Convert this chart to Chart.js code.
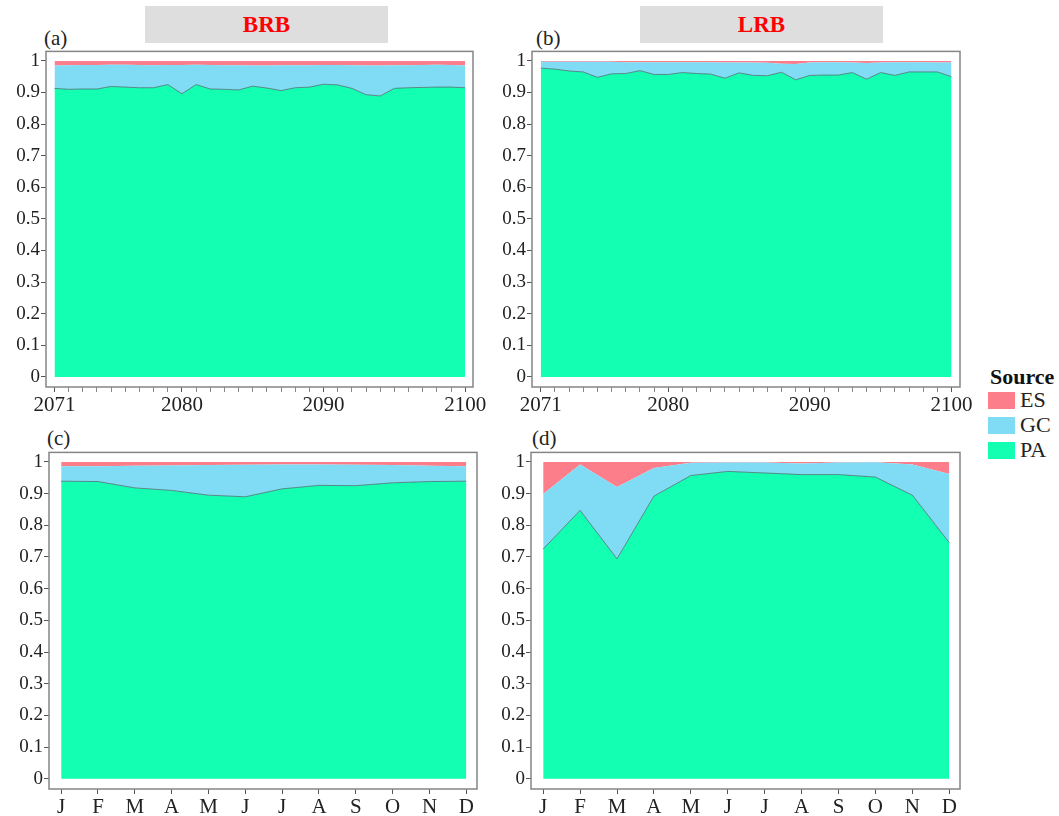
<!DOCTYPE html>
<html>
<head>
<meta charset="utf-8">
<script src="https://cdn.jsdelivr.net/npm/chart.js@4.4.1/dist/chart.umd.min.js"></script>
<style>
  body { margin: 0; background: #fff; width: 1059px; height: 816px; position: relative; overflow: hidden;
         font-family: 'Liberation Serif', 'Times New Roman', serif; }
  .box { position: absolute; }
  .strip { position: absolute; top: 6px; width: 243px; height: 37px; background: #dedede;
           color: #ff0000; font-weight: bold; font-size: 23px; line-height: 37px; text-align: center; }
  .tag { position: absolute; font-size: 21px; color: #222; line-height: 22px; }
  .legend-title { position: absolute; left: 990px; top: 365px; font-size: 22px; font-weight: bold; color: #111; line-height: 24px; }
  .key { position: absolute; left: 988px; width: 27px; height: 17px; }
  .key-label { position: absolute; left: 1020px; font-size: 22px; color: #222; line-height: 22px; }
</style>
</head>
<body>
<div class="strip" style="left:145px">BRB</div>
<div class="strip" style="left:640px">LRB</div>
<div class="tag" style="left:44px;top:27px">(a)</div>
<div class="tag" style="left:536px;top:27px">(b)</div>
<div class="tag" style="left:47px;top:427px">(c)</div>
<div class="tag" style="left:532px;top:427px">(d)</div>

<div class="legend-title">Source</div>
<div class="key" style="top:392px;background:#fd7e8b"></div>
<div class="key-label" style="top:389px">ES</div>
<div class="key" style="top:417px;background:#80dbf5"></div>
<div class="key-label" style="top:414px">GC</div>
<div class="key" style="top:442px;background:#13ffb2"></div>
<div class="key-label" style="top:439px">PA</div>

<div class="box" id="boxA"><canvas id="chartA"></canvas></div>
<div class="box" id="boxB"><canvas id="chartB"></canvas></div>
<div class="box" id="boxC"><canvas id="chartC"></canvas></div>
<div class="box" id="boxD"><canvas id="chartD"></canvas></div>

<script>
// categories and tick labels
const years = [2071, 2072, 2073, 2074, 2075, 2076, 2077, 2078, 2079, 2080,
               2081, 2082, 2083, 2084, 2085, 2086, 2087, 2088, 2089, 2090,
               2091, 2092, 2093, 2094, 2095, 2096, 2097, 2098, 2099, 2100];
const yearLabels = [2071, 2080, 2090, 2100];
const months = [0, 1, 2, 3, 4, 5, 6, 7, 8, 9, 10, 11];
const monthLabels = ['J', 'F', 'M', 'A', 'M', 'J', 'J', 'A', 'S', 'O', 'N', 'D'];
const yTicks = [0, 0.1, 0.2, 0.3, 0.4, 0.5, 0.6, 0.7, 0.8, 0.9, 1];
const yTickLabels = ['0', '0.1', '0.2', '0.3', '0.4', '0.5', '0.6', '0.7', '0.8', '0.9', '1'];

// (a) BRB annual shares
const brbYearPA = [0.913, 0.910, 0.911, 0.911, 0.919, 0.917, 0.915, 0.915, 0.925, 0.896,
                   0.925, 0.911, 0.910, 0.908, 0.920, 0.914, 0.906, 0.915, 0.917, 0.926,
                   0.924, 0.913, 0.893, 0.889, 0.913, 0.915, 0.916, 0.917, 0.917, 0.915];
const brbYearGC = [0.072, 0.076, 0.076, 0.076, 0.069, 0.071, 0.072, 0.071, 0.062, 0.091,
                   0.063, 0.076, 0.076, 0.078, 0.065, 0.071, 0.080, 0.071, 0.069, 0.061,
                   0.063, 0.073, 0.092, 0.096, 0.073, 0.071, 0.071, 0.071, 0.070, 0.070];
const brbYearES = [0.015, 0.014, 0.013, 0.013, 0.012, 0.012, 0.013, 0.014, 0.013, 0.013,
                   0.012, 0.013, 0.014, 0.014, 0.015, 0.015, 0.014, 0.014, 0.014, 0.013,
                   0.013, 0.014, 0.015, 0.015, 0.014, 0.014, 0.013, 0.012, 0.013, 0.015];

// (b) LRB annual shares
const lrbYearPA = [0.977, 0.974, 0.968, 0.965, 0.948, 0.959, 0.960, 0.969, 0.957, 0.957,
                   0.963, 0.960, 0.958, 0.945, 0.962, 0.954, 0.953, 0.964, 0.940, 0.954,
                   0.955, 0.955, 0.963, 0.942, 0.963, 0.954, 0.965, 0.965, 0.965, 0.950];
const lrbYearGC = [0.020, 0.023, 0.029, 0.032, 0.049, 0.038, 0.036, 0.027, 0.039, 0.039,
                   0.033, 0.036, 0.038, 0.050, 0.033, 0.041, 0.041, 0.027, 0.050, 0.041,
                   0.041, 0.041, 0.032, 0.051, 0.032, 0.042, 0.031, 0.031, 0.030, 0.045];
const lrbYearES = [0.003, 0.003, 0.003, 0.003, 0.003, 0.003, 0.004, 0.004, 0.004, 0.004,
                   0.004, 0.004, 0.004, 0.005, 0.005, 0.005, 0.006, 0.009, 0.010, 0.005,
                   0.004, 0.004, 0.005, 0.007, 0.005, 0.004, 0.004, 0.004, 0.005, 0.005];

// (c) BRB monthly shares
const brbMonthPA = [0.939, 0.938, 0.918, 0.910, 0.895, 0.890, 0.915, 0.926, 0.925, 0.934, 0.938, 0.939];
const brbMonthGC = [0.047, 0.048, 0.070, 0.079, 0.095, 0.101, 0.077, 0.066, 0.066, 0.056, 0.050, 0.047];
const brbMonthES = [0.014, 0.014, 0.012, 0.011, 0.010, 0.009, 0.008, 0.008, 0.009, 0.010, 0.012, 0.014];

// (d) LRB monthly shares
const lrbMonthPA = [0.725, 0.847, 0.694, 0.892, 0.957, 0.970, 0.965, 0.960, 0.960, 0.952, 0.895, 0.745];
const lrbMonthGC = [0.174, 0.145, 0.227, 0.089, 0.040, 0.028, 0.033, 0.035, 0.038, 0.047, 0.097, 0.217];
const lrbMonthES = [0.101, 0.008, 0.079, 0.019, 0.003, 0.002, 0.002, 0.005, 0.002, 0.001, 0.008, 0.038];

const colors = { ES: '#fd7e8b', GC: '#80dbf5', PA: '#13ffb2' };
const serif = "'Liberation Serif', 'Times New Roman', serif";

const framePlugin = {
    id: 'frame',
    afterDraw(chart) {
        const a = chart.chartArea;
        const ctx = chart.ctx;
        ctx.save();
        ctx.strokeStyle = '#858585';
        ctx.lineWidth = 1.5;
        ctx.strokeRect(a.left, a.top, a.right - a.left, a.bottom - a.top);
        ctx.restore();
    }
};

function toPoints(xs, ys) {
    return ys.map((v, i) => ({ x: xs[i], y: v }));
}

function makePanel(id, frame, xs, pa, gc, es, xOpts) {
    const padTop = 12, padRight = 30, yWidth = 50, xHeight = 32;
    const box = document.getElementById('box' + id);
    box.style.left = (frame.l - yWidth) + 'px';
    box.style.top = (frame.t - padTop) + 'px';
    box.style.width = (frame.r - frame.l + yWidth + padRight) + 'px';
    box.style.height = (frame.b - frame.t + padTop + xHeight) + 'px';

    const ctx = document.getElementById('chart' + id).getContext('2d');
    return new Chart(ctx, {
        type: 'line',
        data: {
            datasets: [{
                label: 'PA',
                data: toPoints(xs, pa),
                backgroundColor: colors.PA,
                borderColor: '#4f6f74',
                borderWidth: 0.8,
                fill: 'origin',
                pointRadius: 0,
                tension: 0
            }, {
                label: 'GC',
                data: toPoints(xs, gc),
                backgroundColor: colors.GC,
                borderWidth: 0,
                fill: '-1',
                pointRadius: 0,
                tension: 0
            }, {
                label: 'ES',
                data: toPoints(xs, es),
                backgroundColor: colors.ES,
                borderWidth: 0,
                fill: '-1',
                pointRadius: 0,
                tension: 0
            }]
        },
        options: {
            responsive: true,
            maintainAspectRatio: false,
            animation: false,
            layout: { padding: { top: padTop, right: padRight, left: 0, bottom: 0 } },
            plugins: {
                legend: { display: false },
                tooltip: { enabled: false }
            },
            scales: {
                x: {
                    type: 'linear',
                    min: xOpts.min,
                    max: xOpts.max,
                    afterFit: s => { s.height = xHeight; },
                    afterBuildTicks: s => { s.ticks = xs.map(v => ({ value: v })); },
                    border: { display: false },
                    grid: {
                        drawOnChartArea: false,
                        tickLength: 5,
                        tickColor: c => xOpts.isMajor(c.tick ? c.tick.value : null) ? '#555' : '#8a8a8a',
                        tickWidth: 1
                    },
                    ticks: {
                        autoSkip: false,
                        maxRotation: 0,
                        padding: 1,
                        color: '#222',
                        font: { family: serif, size: 21 },
                        callback: xOpts.label
                    }
                },
                y: {
                    stacked: true,
                    min: -0.032,
                    max: 1.03,
                    afterFit: s => { s.width = yWidth; },
                    afterBuildTicks: s => { s.ticks = yTicks.map(v => ({ value: v })); },
                    border: { display: false },
                    grid: {
                        drawOnChartArea: false,
                        tickLength: 5,
                        tickColor: '#555',
                        tickWidth: 1
                    },
                    ticks: {
                        padding: 1,
                        color: '#222',
                        font: { family: serif, size: 19 },
                        callback: v => yTickLabels[yTicks.indexOf(v)]
                    }
                }
            }
        },
        plugins: [framePlugin]
    });
}

const yearAxis = {
    min: 2070.4,
    max: 2100.55,
    isMajor: v => yearLabels.includes(v),
    label: v => yearLabels.includes(v) ? String(v) : ''
};
const yearAxisB = Object.assign({}, yearAxis, { min: 2070.38, max: 2100.6 });
const monthAxis = {
    min: -0.33,
    max: 11.29,
    isMajor: () => true,
    label: (v, i) => monthLabels[i]
};

makePanel('A', { l: 46, t: 51, r: 473, b: 387 }, years, brbYearPA, brbYearGC, brbYearES, yearAxis);
makePanel('B', { l: 532, t: 51, r: 960, b: 387 }, years, lrbYearPA, lrbYearGC, lrbYearES, yearAxisB);
makePanel('C', { l: 49, t: 452, r: 477, b: 789 }, months, brbMonthPA, brbMonthGC, brbMonthES, monthAxis);
makePanel('D', { l: 531, t: 452, r: 960, b: 789 }, months, lrbMonthPA, lrbMonthGC, lrbMonthES, monthAxis);
</script>
</body>
</html>
